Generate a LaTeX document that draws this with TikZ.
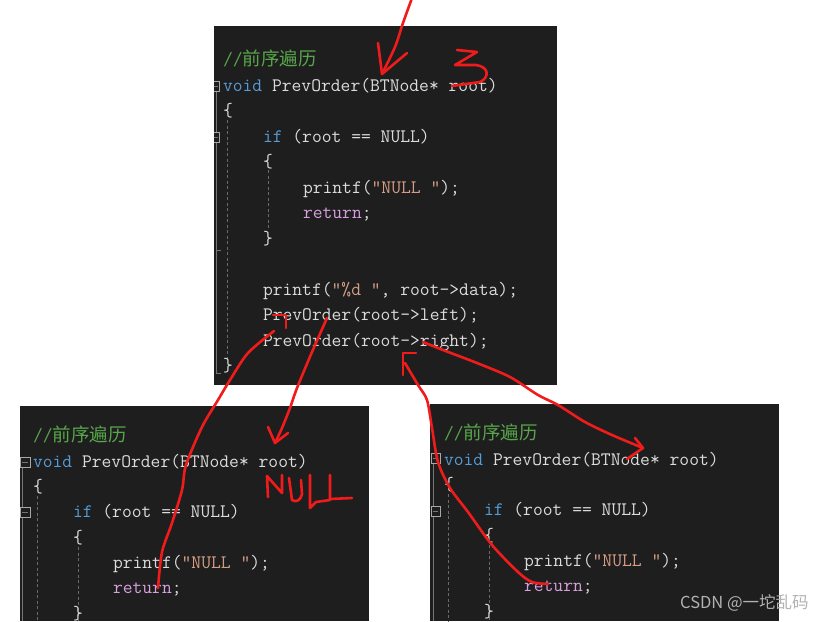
\documentclass[tikz,border=0pt]{standalone}
\usepackage{fontspec}
\newfontfamily\cjk{Noto Sans CJK SC}
\definecolor{bg}{HTML}{1E1E1E}
\definecolor{codefg}{HTML}{DCDCDC}
\definecolor{cmt}{HTML}{57A64A}
\definecolor{kw}{HTML}{569CD6}
\definecolor{str}{HTML}{D69D85}
\definecolor{ret}{HTML}{D8A0DF}
\definecolor{guide}{HTML}{6A6A6A}
\definecolor{fold}{HTML}{A8A8A8}
\definecolor{pen}{RGB}{240,28,28}
\definecolor{wm}{HTML}{B2B2B2}
\newcommand{\K}[1]{\textcolor{kw}{#1}}
\newcommand{\Sx}[1]{\textcolor{str}{#1}}
\newcommand{\R}[1]{\textcolor{ret}{#1}}
\newcommand{\Cm}{\textcolor{cmt}{//{\cjk\fontsize{18.5}{20}\selectfont 前序遍历}}}
\tikzset{
  code/.style={anchor=base west, inner sep=0pt, outer sep=0pt, text=codefg,
    font=\ttfamily\fontsize{19.05}{20}\selectfont},
  panel/.style={fill=bg, draw=none},
  guideline/.style={draw=guide, line width=0.8pt, dash pattern=on 3pt off 2.5pt},
  foldline/.style={draw=fold!70!black, line width=0.9pt},
  foldbox/.style={draw=fold, line width=0.9pt, fill=bg},
  redpen/.style={draw=pen, line width=2.6pt, line cap=round, line join=round},
}
\begin{document}
\begin{tikzpicture}[x=1pt,y=-1pt]
\useasboundingbox (0,0) rectangle (832,621);
\fill[white] (0,0) rectangle (832,621);

% ---------- panels ----------
\fill[panel] (214,26) rectangle (557,385);
\fill[panel] (20,406) rectangle (369,621);
\fill[panel] (430,404) rectangle (779,621);

% ---------- top panel gutter ----------
\draw[foldline] (216,91) -- (216,373);
\draw[foldline] (216,250) -- (221,250);
\draw[foldline] (216,373) -- (221,373);
\begin{scope}
\clip (214,26) rectangle (557,385);
\draw[foldbox] (210,81) rectangle (219,91);
\draw[foldline] (211,86) -- (218,86);
\draw[foldbox] (210,132) rectangle (219,142);
\draw[foldline] (211,137) -- (218,137);
\end{scope}
\draw[guideline] (227.5,120) -- (227.5,362);
\draw[guideline] (268,170) -- (268,228);

% ---------- top panel code ----------
\def\xa{223}
\node[code] (t1) at (\xa,65) {\Cm};
\node[code] (t2) at (\xa,91) {\K{void} PrevOrder(BTNode* root)};
\node[code] (t3) at (\xa,116.5) {\{};
\node[code] (t4) at (\xa+40,142) {\K{if} (root == NULL)};
\node[code] (t5) at (\xa+40,167.5) {\{};
\node[code] (t6) at (\xa+80,193) {printf(\Sx{"NULL "});};
\node[code] (t7) at (\xa+80,218.5) {\R{return};};
\node[code] (t8) at (\xa+40,244) {\}};
\node[code] (t9) at (\xa+40,295) {printf(\Sx{"\%d "}, root->data);};
\node[code] (t10) at (\xa+40,320.5) {PrevOrder(root->left);};
\node[code] (t11) at (\xa+40,346) {PrevOrder(root->right);};
\node[code] (t12) at (\xa,371.5) {\}};

% ---------- bottom-left panel ----------
\draw[foldline] (22,467) -- (22,621);
\draw[foldbox] (20,457) rectangle (30,467);
\draw[foldline] (22,462) -- (28,462);
\draw[foldbox] (20,507.5) rectangle (30,517.5);
\draw[foldline] (22,512.5) -- (28,512.5);
\draw[guideline] (37,496) -- (37,621);
\draw[guideline] (78,547) -- (78,621);
\def\xb{33}
\node[code] (l1) at (\xb,441.5) {\Cm};
\node[code] (l2) at (\xb,467) {\K{void} PrevOrder(BTNode* root)};
\node[code] (l3) at (\xb,492) {\{};
\node[code] (l4) at (\xb+40,517.5) {\K{if} (root == NULL)};
\node[code] (l5) at (\xb+40,543) {\{};
\node[code] (l6) at (\xb+80,568) {printf(\Sx{"NULL "});};
\node[code] (l7) at (\xb+80,593.5) {\R{return};};
\node[code] (l8) at (\xb+40,619) {\}};

% ---------- bottom-right panel ----------
\draw[foldline] (433,463) -- (433,621);
\draw[foldbox] (431,453) rectangle (440,463);
\draw[foldline] (433,458) -- (438,458);
\draw[foldbox] (431,506) rectangle (440,516);
\draw[foldline] (433,511) -- (438,511);
\draw[guideline] (448,494) -- (448,621);
\draw[guideline] (489.5,545) -- (489.5,621);
\def\xc{444}
\node[code] (r1) at (\xc,439.5) {\Cm};
\node[code] (r2) at (\xc,465) {\K{void} PrevOrder(BTNode* root)};
\node[code] (r3) at (\xc,490) {\{};
\node[code] (r4) at (\xc+40,515.5) {\K{if} (root == NULL)};
\node[code] (r5) at (\xc+40,541) {\{};
\node[code] (r6) at (\xc+80,566.5) {printf(\Sx{"NULL "});};
\node[code] (r7) at (\xc+80,591.5) {\R{return};};
\node[code] (r8) at (\xc+40,617) {\}};

% ---------- red hand annotations ----------
% incoming call arrow at top
\draw[redpen] plot[smooth] coordinates {(412,-2) (403,23) (395,47) (382,74)};
\draw[redpen] (378,43) -- (382,74) -- (407,53);
% the "3"
\draw[redpen] (457,50) -- (477,52) -- (455,65) -- (476,65) .. controls (490,67) and (489,78) .. (480,82) -- (452,86);
% call to left child
\draw[redpen] plot[smooth] coordinates {(327,318) (312,352) (297,388) (290,408) (282,428) (275,443)};
\draw[redpen] (268,427) -- (275,443) -- (288,433);
% return from left child
\draw[redpen] plot[smooth] coordinates {(158,588) (162,552) (172,523) (182,490) (186,465) (202,427) (218,400) (230,380) (248,353) (274,331)};
\draw[redpen] (273,315) -- (286,315) -- (286,328);
% NULL written
\draw[redpen] (268,497) -- (267,476) -- (282,493) -- (282,475);
\draw[redpen] (289,478) -- (292,500) .. controls (296,503) and (301,500) .. (302,494) -- (301,480);
\draw[redpen] (310,475) -- (310,508) -- (316,502) -- (330,500);
\draw[redpen] (330,475) -- (330,499) -- (352,498);
% call to right child
\draw[redpen] plot[smooth] coordinates {(423,342) (443,350) (477,363) (510,377) (538,395) (558,405) (585,422) (612,435) (643,448)};
\draw[redpen] (635,438) -- (643,448) -- (627,459);
% return from right child
\draw[redpen] plot[smooth] coordinates {(548,584) (532,582) (518,572) (492,545) (468,512) (450,488) (438,462) (432,428) (427,400) (418,385) (405,363)};
\draw[redpen] (403,375) -- (403,353) -- (416,353);

% ---------- watermark ----------
\node[anchor=base west, inner sep=0pt, text=wm, font=\cjk\fontsize{16.5}{18}\selectfont] (wmk) at (680,608) {CSDN @一坨乱码};
\end{tikzpicture}
\end{document}
